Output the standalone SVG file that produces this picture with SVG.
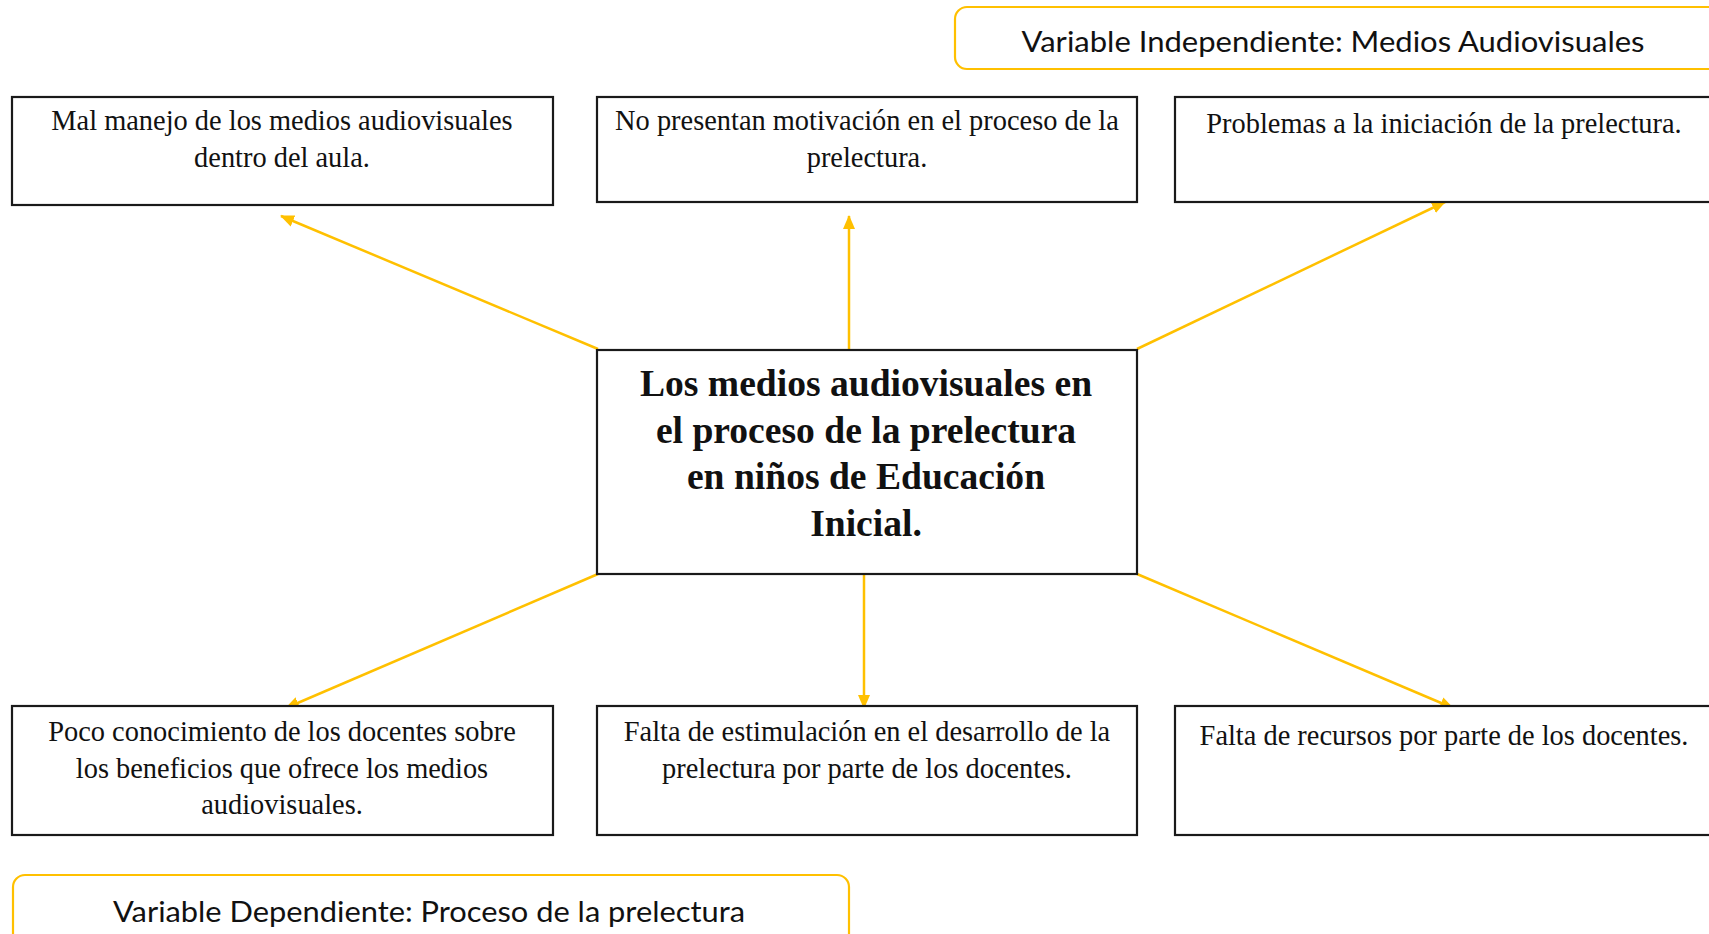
<svg xmlns="http://www.w3.org/2000/svg" width="1709" height="934" viewBox="0 0 1709 934">
<defs>
<style>
.box{fill:#fff;stroke:#1a1a1a;stroke-width:2.2}
.var{fill:#fff;stroke:#FFC000;stroke-width:2.2}
.t{font-family:"Liberation Serif",serif;font-size:28.4px;fill:#111;text-anchor:middle}
.b{font-family:"Liberation Serif",serif;font-size:37.6px;font-weight:bold;fill:#111;text-anchor:middle}
.v{font-family:"Lato","Open Sans",sans-serif;font-size:28px;fill:#111;text-anchor:middle}
.c{stroke:#FFC000;stroke-width:2.5;fill:none;marker-end:url(#ah)}
</style>
<marker id="ah" markerUnits="userSpaceOnUse" markerWidth="14" markerHeight="14" viewBox="0 0 14 14" refX="13" refY="7" orient="auto">
<path d="M0,1 L14,7 L0,13 Z" fill="#FFC000"/>
</marker>
</defs>
<rect width="1709" height="934" fill="#fff"/>

<g id="var-independiente">
<rect class="var" x="955" y="7" width="780" height="62" rx="12"/>
<text class="v" x="1333" y="52" textLength="623" lengthAdjust="spacingAndGlyphs">Variable Independiente: Medios Audiovisuales</text>
</g>

<g id="connectors">
<line class="c" x1="598" y1="349" x2="281" y2="216"/>
<line class="c" x1="849" y1="349" x2="849" y2="216"/>
<line class="c" x1="1137" y1="349" x2="1445" y2="202"/>
<line class="c" x1="598" y1="574" x2="286" y2="708"/>
<line class="c" x1="864" y1="574" x2="864" y2="708"/>
<line class="c" x1="1137" y1="574" x2="1453" y2="708"/>
</g>

<g id="n1">
<rect class="box" x="12" y="97" width="541" height="108"/>
<text class="t" x="282" y="130">Mal manejo de los medios audiovisuales</text>
<text class="t" x="282" y="167">dentro del aula.</text>
</g>
<g id="n2">
<rect class="box" x="597" y="97" width="540" height="105"/>
<text class="t" x="867" y="130">No presentan motivación en el proceso de la</text>
<text class="t" x="867" y="167">prelectura.</text>
</g>
<g id="n3">
<rect class="box" x="1175" y="97" width="560" height="105"/>
<text class="t" x="1444" y="133">Problemas a la iniciación de la prelectura.</text>
</g>

<g id="center">
<rect class="box" x="597" y="350" width="540" height="224"/>
<text class="b" x="866" y="396">Los medios audiovisuales en</text>
<text class="b" x="866" y="443">el proceso de la prelectura</text>
<text class="b" x="866" y="489">en niños de Educación</text>
<text class="b" x="866" y="536">Inicial.</text>
</g>

<g id="n4">
<rect class="box" x="12" y="706" width="541" height="129"/>
<text class="t" x="282" y="741">Poco conocimiento de los docentes sobre</text>
<text class="t" x="282" y="778">los beneficios que ofrece los medios</text>
<text class="t" x="282" y="814">audiovisuales.</text>
</g>
<g id="n5">
<rect class="box" x="597" y="706" width="540" height="129"/>
<text class="t" x="867" y="741">Falta de estimulación en el desarrollo de la</text>
<text class="t" x="867" y="778">prelectura por parte de los docentes.</text>
</g>
<g id="n6">
<rect class="box" x="1175" y="706" width="560" height="129"/>
<text class="t" x="1444" y="745">Falta de recursos por parte de los docentes.</text>
</g>

<g id="var-dependiente">
<rect class="var" x="13" y="875" width="836" height="80" rx="12"/>
<text class="v" x="429" y="922" textLength="632" lengthAdjust="spacingAndGlyphs">Variable Dependiente: Proceso de la prelectura</text>
</g>
</svg>
